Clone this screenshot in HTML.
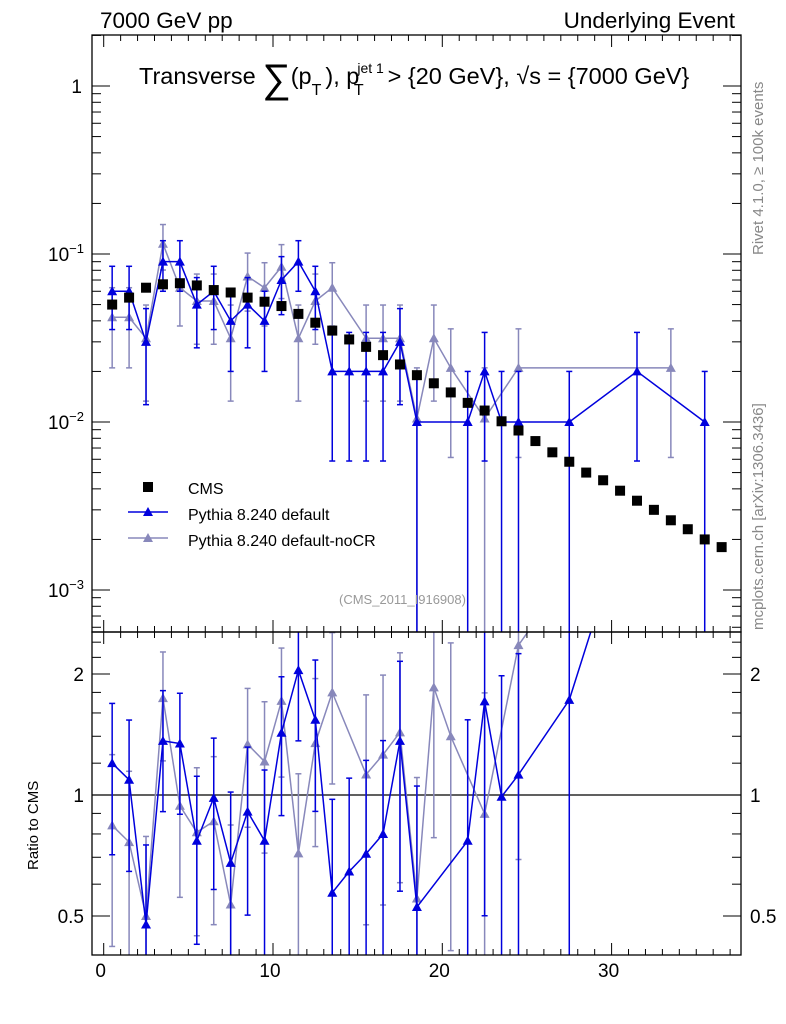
<!DOCTYPE html>
<html><head><meta charset="utf-8"><style>
html,body{margin:0;background:#fff;overflow:hidden;width:786px;height:1024px}
svg{display:block;font-family:"Liberation Sans",sans-serif}
</style></head><body>
<svg id="c" width="786" height="1024" xmlns="http://www.w3.org/2000/svg"></svg>
<script>
const bins=[0.5,1.5,2.5,3.5,4.5,5.5,6.5,7.5,8.5,9.5,10.5,11.5,12.5,13.5,14.5,15.5,16.5,17.5,18.5,19.5,20.5,21.5,22.5,23.5,24.5,25.5,26.5,27.5,28.5,29.5,30.5,31.5,32.5,33.5,34.5,35.5,36.5];
const cmsVals=[0.050,0.055,0.063,0.066,0.067,0.065,0.061,0.059,0.055,0.052,0.049,0.044,0.039,0.035,0.031,0.028,0.025,0.022,0.019,0.017,0.015,0.013,0.0117,0.0101,0.0089,0.0077,0.0066,0.0058,0.0050,0.0045,0.0039,0.0034,0.0030,0.0026,0.0023,0.0020,0.0018];
const pyDefault=[0.06,0.06,0.03,0.09,0.09,0.05,0.06,0.04,0.05,0.04,0.07,0.09,0.06,0.02,0.02,0.02,0.02,0.03,0.01,null,null,0.01,0.02,0.01,0.01,null,null,0.01,null,null,null,0.02,null,null,null,0.01,null];
const pyNoCR=[0.042,0.042,0.0315,0.115,0.063,0.0525,0.0525,0.0315,0.0735,0.063,0.084,0.0315,0.0525,0.063,null,0.0315,0.0315,0.0315,0.0105,0.0315,0.021,null,0.0105,null,0.021,null,null,null,null,null,null,null,null,0.021,null,null,null];
const pyDefaultUnit=[0.01];
const pyNoCRUnit=[0.0105];
const mainTicks=[1,0.1,0.01,0.001];
const ratioTicks=[2,1,0.5];
const xTicks=[0,10,20,30];

const S=document.getElementById('c'),NS='http://www.w3.org/2000/svg';
function el(t,a,p){const e=document.createElementNS(NS,t);for(const k in a)e.setAttribute(k,a[k]);(p||S).appendChild(e);return e;}
const L=92,R=741,T=35,MB=632,RB=955;
const X=v=>103.7+v*16.93;
const Y=v=>86-168*Math.log10(v);
const YR=v=>795-121*Math.log2(v);
const RMAX=2.54;
const clipM=el('clipPath',{id:'cm'});el('rect',{x:L,y:T,width:R-L,height:MB-T},clipM);
const clipR=el('clipPath',{id:'cr'});el('rect',{x:L,y:MB,width:R-L,height:RB-MB},clipR);
const gM=el('g',{'clip-path':'url(#cm)'});
const gR=el('g',{'clip-path':'url(#cr)'});
el('line',{x1:L,x2:R,y1:YR(1),y2:YR(1),stroke:'#000','stroke-width':1.2},gR);

function drawSeries(vals,unit,color,name){
  const g=el('g',{},gM);
  const gr=el('g',{},gR);
  let pts=[],rpts=[];
  vals.forEach((v,i)=>{if(v==null)return;const x=X(bins[i]);const e=Math.sqrt(v*unit);
    const lo=Math.max(v-e,1e-6),hi=v+e;
    el('line',{x1:x,x2:x,y1:Y(lo),y2:Y(hi),stroke:color,'stroke-width':1.5},g);
    el('line',{x1:x-3,x2:x+3,y1:Y(hi),y2:Y(hi),stroke:color,'stroke-width':1.5},g);
    if(lo>1e-5)el('line',{x1:x-3,x2:x+3,y1:Y(lo),y2:Y(lo),stroke:color,'stroke-width':1.5},g);
    pts.push([x,Y(v)]);
    const c=cmsVals[i],r=v/c,rl=Math.max((v-e)/c,1e-6),rh=(v+e)/c;
    if(r<=RMAX){
      el('line',{x1:x,x2:x,y1:YR(rl),y2:YR(rh),stroke:color,'stroke-width':1.5},gr);
      el('line',{x1:x-3,x2:x+3,y1:YR(rh),y2:YR(rh),stroke:color,'stroke-width':1.5},gr);
      if(rl>0.01)el('line',{x1:x-3,x2:x+3,y1:YR(rl),y2:YR(rl),stroke:color,'stroke-width':1.5},gr);
    }
    rpts.push([x,YR(r),r<=RMAX]);
  });
  el('polyline',{points:pts.map(p=>p[0]+','+p[1]).join(' '),fill:'none',stroke:color,'stroke-width':1.5},g);
  el('polyline',{points:rpts.map(p=>p[0]+','+p[1]).join(' '),fill:'none',stroke:color,'stroke-width':1.5},gr);
  pts.forEach(p=>{const m=el('path',{d:`M${p[0]-5},${p[1]+4}L${p[0]+5},${p[1]+4}L${p[0]},${p[1]-5}Z`,fill:color},g);});
  rpts.forEach(p=>{if(!p[2])return;const m=el('path',{d:`M${p[0]-5},${p[1]+4}L${p[0]+5},${p[1]+4}L${p[0]},${p[1]-5}Z`,fill:color},gr);});
}
drawSeries(pyNoCR,pyNoCRUnit[0],'#8888bb','pythia-nocr');
drawSeries(pyDefault,pyDefaultUnit[0],'#0000dd','pythia-default');
const gC=el('g',{},gM);
cmsVals.forEach((v,i)=>{const r=el('rect',{x:X(bins[i])-5,y:Y(v)-5,width:10,height:10,fill:'#000'},gC);});

[[T,MB],[MB,RB]].forEach(([a,b],k)=>{const r=el('rect',{x:L,y:a,width:R-L,height:b-a,fill:'none',stroke:'#000','stroke-width':1.3});});
for(let v=0;v<=37;v++){const x=X(v),maj=v%10==0,len=maj?12:6;
  [T,MB].forEach(y=>el('line',{x1:x,x2:x,y1:y,y2:y+len,stroke:'#000'}));
  [MB,RB].forEach(y=>el('line',{x1:x,x2:x,y1:y,y2:y-len,stroke:'#000'}));}
xTicks.forEach(v=>{const t=el('text',{x:X(v)-3,y:977,'font-size':19,'text-anchor':'middle'});t.textContent=v;});
for(let d=-4;d<=0;d++)for(let m=1;m<10;m++){const v=m*Math.pow(10,d),y=Y(v);if(y<T||y>MB)continue;const len=m==1?18:9;
  el('line',{x1:L,x2:L+len,y1:y,y2:y,stroke:'#000'});el('line',{x1:R,x2:R-len,y1:y,y2:y,stroke:'#000'});}
mainTicks.forEach(v=>{const y=Y(v),t=el('text',{x:82,y:y+7,'font-size':19,'text-anchor':'end'});
  if(v==1)t.textContent='1';else{const e=Math.round(Math.log10(v));t.innerHTML=`10<tspan dy="-8" font-size="13">−${-e}</tspan>`;t.setAttribute('x',84);}
  });
[0.5,0.6,0.7,0.8,0.9,1,1.2,1.4,1.6,1.8,2,2.2,2.4].forEach(v=>{const y=YR(v),maj=ratioTicks.includes(v),len=maj?18:9;
  el('line',{x1:L,x2:L+len,y1:y,y2:y,stroke:'#000'});el('line',{x1:R,x2:R-len,y1:y,y2:y,stroke:'#000'});});
ratioTicks.forEach(v=>{[[84,'end'],[750,'start']].forEach(([x,a])=>{const t=el('text',{x:x,y:YR(v)+7,'font-size':19,'text-anchor':a});t.textContent=v;});});

function txt(s,a,name){const t=el('text',a);t.innerHTML=s;return t;}
txt('7000 GeV pp',{x:100,y:28,'font-size':22.5},'header-left');
txt('Underlying Event',{x:735,y:28,'font-size':22.5,'text-anchor':'end'},'header-right');
txt('Transverse <tspan font-size="40" dy="8">∑</tspan><tspan dy="-8">(p</tspan><tspan font-size="16" dy="11">T</tspan><tspan dy="-11" dx="4">), p</tspan><tspan font-size="14" dy="-11" dx="-2">jet 1</tspan><tspan font-size="16" dy="22" dx="-30">T</tspan><tspan dy="-11" dx="24">&gt; {20 GeV}, √s = {7000 GeV}</tspan>',{x:139,y:84,'font-size':23.5},'plot-title');
txt('Rivet 4.1.0, ≥ 100k events',{x:0,y:0,'font-size':15,fill:'#888',transform:'translate(763,255) rotate(-90)'},'rivet-label');
txt('mcplots.cern.ch [arXiv:1306.3436]',{x:0,y:0,'font-size':15,fill:'#888',transform:'translate(763,630) rotate(-90)'},'mcplots-label');
txt('(CMS_2011_I916908)',{x:339,y:604,'font-size':13,fill:'#999'},'analysis-id');
txt('Ratio to CMS',{x:0,y:0,'font-size':15,transform:'translate(38,870) rotate(-90)'},'ratio-axis-title');
const lg=el('g',{});
el('rect',{x:143,y:482,width:10,height:10,fill:'#000'},lg);
[['#0000dd',512],['#8888bb',538]].forEach(([c,y])=>{el('line',{x1:128,x2:168,y1:y,y2:y,stroke:c,'stroke-width':1.5},lg);el('path',{d:`M${143},${y+4}L${153},${y+4}L148,${y-5}Z`,fill:c},lg);});
[['CMS',494],['Pythia 8.240 default',520],['Pythia 8.240 default-noCR',546]].forEach(([s,y])=>{const t=el('text',{x:188,y:y,'font-size':16},lg);t.textContent=s;});
</script>
</body></html>
